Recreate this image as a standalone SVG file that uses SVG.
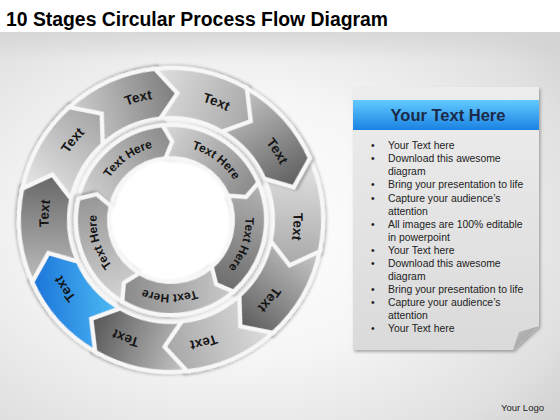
<svg xmlns="http://www.w3.org/2000/svg" xmlns:xlink="http://www.w3.org/1999/xlink" width="560" height="420" viewBox="0 0 560 420">
<style>
.seg{stroke:#f7f7f7;stroke-width:4;stroke-linejoin:miter}
.t{font-family:"Liberation Sans",Arial,sans-serif;font-weight:bold;font-size:13.5px;fill:#151515}
.ti{font-family:"Liberation Sans",Arial,sans-serif;font-weight:bold;font-size:12px;fill:#151515}
.b{font-family:"Liberation Sans",Arial,sans-serif;font-size:10.4px;fill:#222}
</style>
<defs>
<radialGradient id="bg" cx="0.42" cy="0.5" r="0.75">
<stop offset="0" stop-color="#ffffff"/><stop offset="0.45" stop-color="#f6f6f6"/><stop offset="0.85" stop-color="#e0e0e0"/><stop offset="1" stop-color="#d2d2d2"/>
</radialGradient>
<linearGradient id="topband" x1="0" y1="0" x2="0" y2="1">
<stop offset="0" stop-color="#d4d4d4" stop-opacity="0.8"/><stop offset="1" stop-color="#d4d4d4" stop-opacity="0"/>
</linearGradient>
<filter id="sh" x="-20%" y="-20%" width="140%" height="140%"><feDropShadow dx="1.5" dy="2" stdDeviation="1.5" flood-color="#000" flood-opacity="0.3"/></filter>
<filter id="glow" x="-10%" y="-10%" width="120%" height="120%"><feGaussianBlur stdDeviation="3"/></filter>
<path id="oseg" d="M135.43,-69.01 A152,152 0 0 1 150.13,23.78 L120.78,39.25 L100.74,15.96 A102,102 0 0 0 90.88,-46.31 L120.78,-39.25 Z"/>
<path id="iseg" d="M70.60,-63.57 A95,95 0 0 1 82.27,47.50 L63.51,46.14 L53.69,31.00 A62,62 0 0 0 46.07,-41.49 L63.51,-46.14 Z"/>
<path id="otxt" d="M93.84,-78.74 A122.5,122.5 0 0 1 93.84,78.74" fill="none"/>
<path id="itxt" d="M47.89,-57.07 A74.5,74.5 0 0 1 47.89,57.07" fill="none"/>
<linearGradient id="o3" x1="0" y1="0" x2="0" y2="1"><stop offset="0" stop-color="#e4e4e4"/><stop offset="1" stop-color="#a8a8a8"/></linearGradient>
<linearGradient id="o39" x1="0" y1="0" x2="0" y2="1"><stop offset="0" stop-color="#cacaca"/><stop offset="1" stop-color="#5c5c5c"/></linearGradient>
<linearGradient id="o75" x1="0" y1="0" x2="0" y2="1"><stop offset="0" stop-color="#dedede"/><stop offset="1" stop-color="#a6a6a6"/></linearGradient>
<linearGradient id="o111" x1="0" y1="0" x2="0" y2="1"><stop offset="0" stop-color="#c8c8c8"/><stop offset="1" stop-color="#555555"/></linearGradient>
<linearGradient id="o147" x1="0" y1="0" x2="1" y2="1"><stop offset="0" stop-color="#55c6f8"/><stop offset="1" stop-color="#156cd6"/></linearGradient>
<linearGradient id="o183" x1="0" y1="0" x2="0" y2="1"><stop offset="0" stop-color="#bdbdbd"/><stop offset="1" stop-color="#666666"/></linearGradient>
<linearGradient id="o219" x1="0" y1="0" x2="0" y2="1"><stop offset="0" stop-color="#e8e8e8"/><stop offset="1" stop-color="#a4a4a4"/></linearGradient>
<linearGradient id="o255" x1="0" y1="0" x2="0" y2="1"><stop offset="0" stop-color="#cfcfcf"/><stop offset="1" stop-color="#7d7d7d"/></linearGradient>
<linearGradient id="o291" x1="0" y1="0" x2="0" y2="1"><stop offset="0" stop-color="#e0e0e0"/><stop offset="1" stop-color="#a8a8a8"/></linearGradient>
<linearGradient id="o327" x1="0" y1="0" x2="0" y2="1"><stop offset="0" stop-color="#c4c4c4"/><stop offset="1" stop-color="#5e5e5e"/></linearGradient>
<linearGradient id="i235" x1="0" y1="0" x2="0" y2="1"><stop offset="0" stop-color="#d4d4d4"/><stop offset="1" stop-color="#8c8c8c"/></linearGradient>
<linearGradient id="i307" x1="0" y1="0" x2="0" y2="1"><stop offset="0" stop-color="#d8d8d8"/><stop offset="1" stop-color="#8a8a8a"/></linearGradient>
<linearGradient id="i19" x1="0" y1="0" x2="0" y2="1"><stop offset="0" stop-color="#b4b4b4"/><stop offset="1" stop-color="#6c6c6c"/></linearGradient>
<linearGradient id="i91" x1="0" y1="0" x2="0" y2="1"><stop offset="0" stop-color="#cacaca"/><stop offset="1" stop-color="#8a8a8a"/></linearGradient>
<linearGradient id="i163" x1="0" y1="0" x2="0" y2="1"><stop offset="0" stop-color="#d4d4d4"/><stop offset="1" stop-color="#969696"/></linearGradient>
<linearGradient id="panel" x1="0" y1="0" x2="0" y2="1"><stop offset="0" stop-color="#ededed"/><stop offset="1" stop-color="#dadada"/></linearGradient>
<linearGradient id="blue" x1="0" y1="0" x2="0" y2="1"><stop offset="0" stop-color="#62caff"/><stop offset="1" stop-color="#1a82e2"/></linearGradient>
<linearGradient id="curl" x1="0" y1="0" x2="1" y2="1"><stop offset="0" stop-color="#bdbdbd"/><stop offset="1" stop-color="#9a9a9a"/></linearGradient>
</defs>

<rect width="560" height="420" fill="#ffffff"/>
<rect y="32" width="560" height="388" fill="url(#bg)"/>
<rect y="32" width="560" height="28" fill="url(#topband)"/>

<text x="6" y="26" font-family="'Liberation Sans',Arial,sans-serif" font-weight="bold" font-size="20" fill="#000" textLength="382" lengthAdjust="spacingAndGlyphs">10 Stages Circular Process Flow Diagram</text>

<circle cx="171" cy="220" r="146" fill="#ffffff" filter="url(#glow)"/>

<g id="connectors"></g>

<g id="outer-1" transform="translate(171,220) rotate(3)"><use href="#oseg" class="seg" fill="url(#o3)" filter="url(#sh)"/><text class="t"><textPath href="#otxt" startOffset="50%" text-anchor="middle">Text</textPath></text></g>
<g id="outer-2" transform="translate(171,220) rotate(39)"><use href="#oseg" class="seg" fill="url(#o39)" filter="url(#sh)"/><text class="t"><textPath href="#otxt" startOffset="50%" text-anchor="middle">Text</textPath></text></g>
<g id="outer-3" transform="translate(171,220) rotate(75)"><use href="#oseg" class="seg" fill="url(#o75)" filter="url(#sh)"/><text class="t"><textPath href="#otxt" startOffset="50%" text-anchor="middle">Text</textPath></text></g>
<g id="outer-4" transform="translate(171,220) rotate(111)"><use href="#oseg" class="seg" fill="url(#o111)" filter="url(#sh)"/><text class="t"><textPath href="#otxt" startOffset="50%" text-anchor="middle">Text</textPath></text></g>
<g id="outer-5" transform="translate(171,220) rotate(147)"><use href="#oseg" class="seg" fill="url(#o147)" filter="url(#sh)"/><text class="t" fill="#0b1c3a"><textPath href="#otxt" startOffset="50%" text-anchor="middle">Text</textPath></text></g>
<g id="outer-6" transform="translate(171,220) rotate(183)"><use href="#oseg" class="seg" fill="url(#o183)" filter="url(#sh)"/><text class="t"><textPath href="#otxt" startOffset="50%" text-anchor="middle">Text</textPath></text></g>
<g id="outer-7" transform="translate(171,220) rotate(219)"><use href="#oseg" class="seg" fill="url(#o219)" filter="url(#sh)"/><text class="t"><textPath href="#otxt" startOffset="50%" text-anchor="middle">Text</textPath></text></g>
<g id="outer-8" transform="translate(171,220) rotate(255)"><use href="#oseg" class="seg" fill="url(#o255)" filter="url(#sh)"/><text class="t"><textPath href="#otxt" startOffset="50%" text-anchor="middle">Text</textPath></text></g>
<g id="outer-9" transform="translate(171,220) rotate(291)"><use href="#oseg" class="seg" fill="url(#o291)" filter="url(#sh)"/><text class="t"><textPath href="#otxt" startOffset="50%" text-anchor="middle">Text</textPath></text></g>
<g id="outer-10" transform="translate(171,220) rotate(327)"><use href="#oseg" class="seg" fill="url(#o327)" filter="url(#sh)"/><text class="t"><textPath href="#otxt" startOffset="50%" text-anchor="middle">Text</textPath></text></g>

<g id="inner-1" transform="translate(171,220) rotate(235)"><use href="#iseg" class="seg" fill="url(#i235)" filter="url(#sh)"/><text class="ti"><textPath href="#itxt" startOffset="50%" text-anchor="middle">Text Here</textPath></text></g>
<g id="inner-2" transform="translate(171,220) rotate(307)"><use href="#iseg" class="seg" fill="url(#i307)" filter="url(#sh)"/><text class="ti"><textPath href="#itxt" startOffset="50%" text-anchor="middle">Text Here</textPath></text></g>
<g id="inner-3" transform="translate(171,220) rotate(19)"><use href="#iseg" class="seg" fill="url(#i19)" filter="url(#sh)"/><text class="ti"><textPath href="#itxt" startOffset="50%" text-anchor="middle">Text Here</textPath></text></g>
<g id="inner-4" transform="translate(171,220) rotate(91)"><use href="#iseg" class="seg" fill="url(#i91)" filter="url(#sh)"/><text class="ti"><textPath href="#itxt" startOffset="50%" text-anchor="middle">Text Here</textPath></text></g>
<g id="inner-5" transform="translate(171,220) rotate(163)"><use href="#iseg" class="seg" fill="url(#i163)" filter="url(#sh)"/><text class="ti"><textPath href="#itxt" startOffset="50%" text-anchor="middle">Text Here</textPath></text></g>

<g id="panel-box">
<path d="M353,87 H539 V326 L513,350 H353 Z" fill="url(#panel)" filter="url(#sh)"/>
<path d="M539,326 L513,350 L519,332 Z" fill="url(#curl)"/>
<rect x="353" y="100" width="186" height="30" fill="url(#blue)"/>
<text x="448" y="121" text-anchor="middle" font-family="'Liberation Sans',Arial,sans-serif" font-weight="bold" font-size="16.5" fill="#1b2a48">Your Text Here</text>
<g class="b">
<text x="371" y="149.3">•</text><text x="388" y="149.3">Your Text here</text>
<text x="371" y="162.35">•</text><text x="388" y="162.35">Download this awesome</text>
<text x="388" y="175.4">diagram</text>
<text x="371" y="188.45">•</text><text x="388" y="188.45">Bring your presentation to life</text>
<text x="371" y="201.5">•</text><text x="388" y="201.5">Capture your audience’s</text>
<text x="388" y="214.55">attention</text>
<text x="371" y="227.6">•</text><text x="388" y="227.6">All images are 100% editable</text>
<text x="388" y="240.65">in powerpoint</text>
<text x="371" y="253.7">•</text><text x="388" y="253.7">Your Text here</text>
<text x="371" y="266.75">•</text><text x="388" y="266.75">Download this awesome</text>
<text x="388" y="279.8">diagram</text>
<text x="371" y="292.85">•</text><text x="388" y="292.85">Bring your presentation to life</text>
<text x="371" y="305.9">•</text><text x="388" y="305.9">Capture your audience’s</text>
<text x="388" y="318.95">attention</text>
<text x="371" y="332">•</text><text x="388" y="332">Your Text here</text>
</g>
</g>

<text x="544" y="411" text-anchor="end" font-family="'Liberation Sans',Arial,sans-serif" font-size="9.5" fill="#222">Your Logo</text>
</svg>
